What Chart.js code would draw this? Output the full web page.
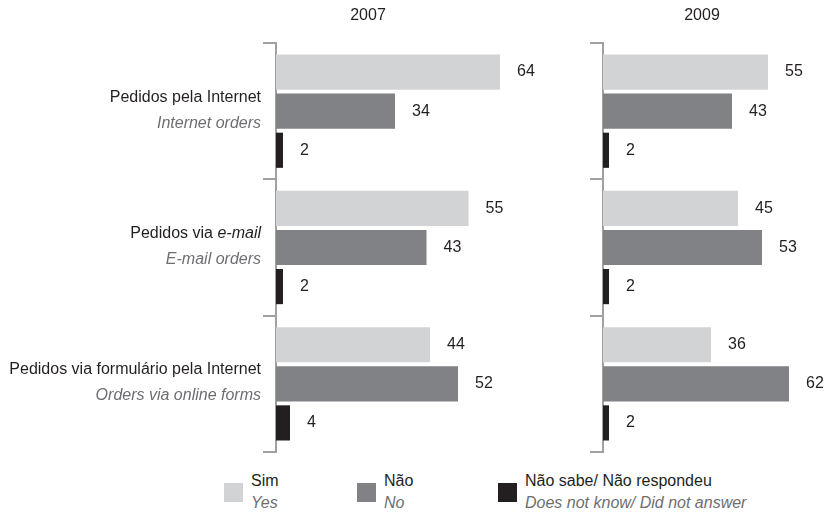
<!DOCTYPE html>
<html>
<head>
<meta charset="utf-8">
<script src="https://cdn.jsdelivr.net/npm/chart.js@4"></script>
<style>
  body { margin: 0; background: #fff; font-family: 'Liberation Sans', Arial, sans-serif; }
  #wrap { position: relative; width: 825px; height: 519px; }
  canvas { position: absolute; top: 0; }
  .leg { position: absolute; top: 470px; font-size: 16px; color: #231f20; line-height: 22px; }
  .leg .sw { position: absolute; top: 13px; width: 19px; height: 19px; }
  .leg .txt { position: absolute; left: 27px; white-space: nowrap; }
  .leg i { color: #6d6e71; }
</style>
</head>
<body>
<div id="wrap">
  <canvas id="c2007" width="560" height="470" style="left:0"></canvas>
  <canvas id="c2009" width="265" height="470" style="left:560px"></canvas>
  <div id="legend"></div>
</div>
<script>
// categorias (pt / en)
const categoriasPt = ['Pedidos pela Internet', 'Pedidos via e-mail', 'Pedidos via formulário pela Internet'];
const categoriasEn = ['Internet orders', 'E-mail orders', 'Orders via online forms'];

// séries
const seriesPt = ['Sim', 'Não', 'Não sabe/ Não respondeu'];
const seriesEn = ['Yes', 'No', 'Does not know/ Did not answer'];
const cores = ['#d1d3d4', '#808285', '#231f20'];

// valores 2007
const sim2007 = [64, 55, 44];
const nao2007 = [34, 43, 52];
const ns2007 = [2, 2, 4];

// valores 2009
const sim2009 = [55, 45, 36];
const nao2009 = [43, 53, 62];
const ns2009 = [2, 2, 2];

const cinza = '#a0a0a0';
const fonte = "'Liberation Sans', Arial, sans-serif";

// rótulos de valor, título do ano e categorias
const painelPlugin = {
    id: 'painel',
    afterDatasetsDraw(chart, args, opts) {
        const ctx = chart.ctx;
        ctx.save();
        ctx.fillStyle = '#231f20';
        ctx.font = '16px ' + fonte;
        ctx.textBaseline = 'middle';
        ctx.textAlign = 'left';
        chart.data.datasets.forEach((ds, i) => {
            chart.getDatasetMeta(i).data.forEach((bar, j) => {
                ctx.fillText(ds.data[j], bar.x + 17, bar.y);
            });
        });
        ctx.textAlign = 'center';
        ctx.fillText(opts.ano, opts.anoX, 16);

        if (opts.categorias) {
            const y = chart.scales.y;
            const xr = y.left - 2;
            ctx.textAlign = 'right';
            categoriasPt.forEach((txt, j) => {
                const cy = y.getPixelForValue(j);
                // "e-mail" em itálico
                const partes = txt.split('e-mail');
                ctx.fillStyle = '#231f20';
                if (partes.length > 1) {
                    ctx.font = 'italic 16px ' + fonte;
                    const w = ctx.measureText('e-mail').width;
                    ctx.fillText('e-mail', xr, cy - 14);
                    ctx.font = '16px ' + fonte;
                    ctx.fillText(partes[0], xr - w, cy - 14);
                } else {
                    ctx.font = '16px ' + fonte;
                    ctx.fillText(txt, xr, cy - 14);
                }
                ctx.font = 'italic 16px ' + fonte;
                ctx.fillStyle = '#6d6e71';
                ctx.fillText(categoriasEn[j], xr, cy + 12);
            });
        }
        ctx.restore();
    }
};

function criarPainel(canvasId, ano, anoX, sim, nao, ns, xMax, padding, categorias) {
    const ctx = document.getElementById(canvasId).getContext('2d');
    return new Chart(ctx, {
        type: 'bar',
        data: {
            labels: categoriasPt,
            datasets: [sim, nao, ns].map((d, i) => ({
                label: seriesPt[i],
                data: d,
                backgroundColor: cores[i],
                borderWidth: 0,
                barPercentage: 0.9,
                categoryPercentage: 0.86
            }))
        },
        options: {
            indexAxis: 'y',
            responsive: false,
            animation: false,
            layout: { padding: padding },
            scales: {
                x: { display: false, min: 0, max: xMax },
                y: {
                    ticks: { display: false },
                    grid: {
                        offset: true,
                        drawOnChartArea: false,
                        drawTicks: true,
                        tickLength: 13,
                        color: cinza,
                        lineWidth: 2
                    },
                    border: { display: true, color: cinza, width: 2 }
                }
            },
            plugins: {
                legend: { display: false },
                tooltip: { enabled: false },
                painel: { ano: ano, anoX: anoX, categorias: categorias }
            }
        },
        plugins: [painelPlugin]
    });
}

criarPainel('c2007', '2007', 368, sim2007, nao2007, ns2007, 70,
    { left: 263, top: 43, bottom: 18, right: 39 }, true);
criarPainel('c2009', '2009', 142, sim2009, nao2009, ns2009, 70,
    { left: 30, top: 43, bottom: 18, right: 12 }, false);

// legenda
const legX = [224, 357, 498];
const legend = document.getElementById('legend');
seriesPt.forEach((nome, i) => {
    const el = document.createElement('div');
    el.className = 'leg';
    el.style.left = legX[i] + 'px';
    el.innerHTML = '<div class="sw" style="background:' + cores[i] + '"></div>' +
        '<div class="txt">' + nome + '<br><i>' + seriesEn[i] + '</i></div>';
    legend.appendChild(el);
});
</script>
</body>
</html>
